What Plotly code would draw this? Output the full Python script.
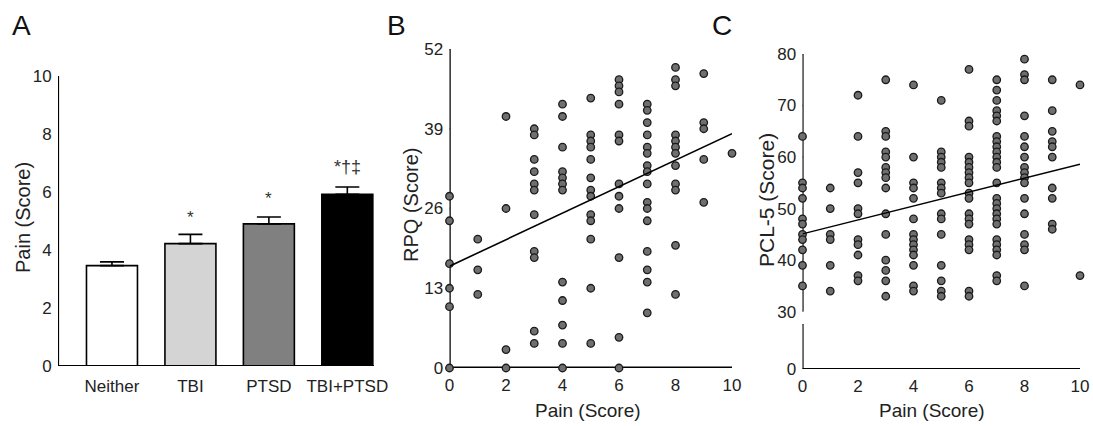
import plotly.graph_objects as go

W, H = 1093, 426
FONT = "Liberation Sans, Arial, sans-serif"
TXT = "#222222"

# ---- Panel A data ----
groups = ["Neither", "TBI", "PTSD", "TBI+PTSD"]
pain_mean = [3.46, 4.22, 4.90, 5.92]
pain_sem = [0.13, 0.32, 0.24, 0.25]
bar_colors = ["#ffffff", "#d4d4d4", "#808080", "#000000"]
sig_labels = ["", "*", "*", "*†‡"]
sig_y = [0, 5.13, 5.78, 6.85]
a_yticks = [0, 2, 4, 6, 8, 10]

# ---- Panel B data (RPQ by pain score) ----
pain_levels = [0, 1, 2, 3, 4, 5, 6, 7, 8, 9, 10]
pain_ticks = [0, 2, 4, 6, 8, 10]
rpq_ticks = [0, 13, 26, 39, 52]
rpq_cols = [
    [28, 24, 17, 13, 10, 0],
    [21, 16, 12],
    [41, 26, 3, 0],
    [39, 38, 34, 32, 30, 29, 25, 19, 18, 6, 4],
    [43, 41, 36, 32, 31, 30, 29, 14, 11, 7, 4, 0],
    [44, 38, 37, 36, 34, 31, 29, 28, 25, 24, 21, 13, 4],
    [47, 46, 45, 43, 38, 37, 30, 28, 26, 18, 5, 0],
    [43, 42, 40, 38, 36, 35, 33, 32, 30, 27, 26, 24, 19, 16, 14, 9],
    [49, 47, 46, 38, 37, 36, 35, 33, 30, 29, 20, 12],
    [48, 40, 39, 34, 27],
    [35],
]
rpq_fit_x = [0, 10]
rpq_fit_y = [16.6, 38.2]

# ---- Panel C data (PCL-5 by pain score) ----
pcl_ticks = [30, 40, 50, 60, 70, 80]
pcl_cols = [
    [64, 55, 54, 52, 48, 47, 45, 44, 42, 39, 35],
    [54, 50, 45, 44, 39, 34],
    [72, 64, 57, 55, 50, 49, 44, 43, 41, 37, 36],
    [75, 65, 64, 61, 60, 58, 57, 56, 54, 49, 45, 40, 38, 36, 33],
    [74, 60, 55, 54, 52, 48, 45, 44, 43, 42, 41, 39, 35, 34],
    [71, 61, 60, 59, 58, 55, 54, 53, 49, 48, 45, 39, 36, 34, 33],
    [77, 67, 66, 60, 59, 58, 57, 56, 55, 53, 52, 49, 48, 47, 44, 43, 42, 34, 33],
    [75, 73, 71, 69, 68, 67, 64, 63, 62, 61, 60, 59, 58, 55, 52, 51, 50, 49, 48, 47, 44, 43, 42, 41, 37, 36],
    [79, 76, 75, 68, 64, 62, 60, 58, 57, 56, 55, 52, 49, 45, 43, 42, 35],
    [75, 69, 65, 63, 62, 60, 54, 52, 47, 46],
    [74, 37],
]
pcl_fit_x = [0, 10]
pcl_fit_y = [45.1, 58.6]

b_x = [p for p, col in zip(pain_levels, rpq_cols) for _ in col]
b_y = [v for col in rpq_cols for v in col]
c_x = [p for p, col in zip(pain_levels, pcl_cols) for _ in col]
c_y = [v for col in pcl_cols for v in col]

# ---- layout geometry (pixels) and axis ranges ----
A_XPX, A_YPX = (58, 374), (366, 76)
B_XPX, B_YPX = (449.5, 732), (368, 49)
C_XPX, C_YPX_UP, C_YPX_LO = (802.5, 1080), (311.7, 54), (369, 324)
A_XR, A_YR = [-0.688, 3.34], [0, 10]
B_XR, B_YR = [0, 10], [0, 52]
C_XR, C_YR_UP, C_YR_LO = [0, 10], [30, 80], [0, 1]
TICKLEN = 5


def px_x(px):
    return px / W


def px_y(py):
    return 1 - py / H


def span(p):
    return abs(p[1] - p[0])


def frame(fig, xa, ya, xr, yr, xpx, ypx, xticks=(), yticks=(), xline=False, yline=False,
          xlw=2.2, ylw=2.2, tw=1.8):
    """Axis lines and outward tick marks drawn through the subplot's own scales."""
    dx = (xr[1] - xr[0]) / span(xpx) * TICKLEN
    dy = (yr[1] - yr[0]) / span(ypx) * TICKLEN
    common = dict(mode="lines", xaxis=xa, yaxis=ya, cliponaxis=False, hoverinfo="skip",
                  showlegend=False)
    if xline:
        fig.add_trace(go.Scatter(x=[xr[0], xr[1]], y=[yr[0], yr[0]],
                                 line=dict(color="black", width=xlw), **common))
    if yline:
        fig.add_trace(go.Scatter(x=[xr[0], xr[0]], y=[yr[0], yr[1]],
                                 line=dict(color="black", width=ylw), **common))
    tx, ty = [], []
    for t in xticks:
        tx += [t, t, None]
        ty += [yr[0], yr[0] - dy, None]
    for t in yticks:
        tx += [xr[0], xr[0] - dx, None]
        ty += [t, t, None]
    if tx:
        fig.add_trace(go.Scatter(x=tx, y=ty, line=dict(color="black", width=tw), **common))


marker = dict(size=7.5, color="#6f6f6f", line=dict(color="#1a1a1a", width=1.3))

fig = go.Figure()

# Panel A bars
fig.add_trace(go.Bar(
    x=list(range(len(groups))), y=pain_mean, width=0.65,
    marker=dict(color=bar_colors, line=dict(color="black", width=1.6)),
    error_y=dict(type="data", array=pain_sem, arrayminus=[0] * 4, symmetric=False,
                 color="black", thickness=1.6, width=12),
    xaxis="x", yaxis="y", showlegend=False,
))
frame(fig, "x", "y", A_XR, A_YR, A_XPX, A_YPX, xticks=range(len(groups)), yticks=a_yticks,
      xline=True, yline=True)

# Panel B frame, scatter + fit
frame(fig, "x2", "y2", B_XR, B_YR, B_XPX, B_YPX, xticks=pain_ticks, yticks=rpq_ticks,
      xline=True, yline=True, xlw=3, ylw=2.5)
fig.add_trace(go.Scatter(x=b_x, y=b_y, mode="markers", marker=marker, cliponaxis=False,
                         xaxis="x2", yaxis="y2", showlegend=False))
fig.add_trace(go.Scatter(x=rpq_fit_x, y=rpq_fit_y, mode="lines", line=dict(color="black", width=1.6),
                         cliponaxis=False, xaxis="x2", yaxis="y2", showlegend=False))

# Panel C frame (broken y axis), scatter + fit
frame(fig, "x3", "y3", C_XR, C_YR_UP, C_XPX, C_YPX_UP, yticks=pcl_ticks, yline=True)
frame(fig, "x3", "y4", C_XR, C_YR_LO, C_XPX, C_YPX_LO, xticks=pain_ticks, yticks=[0, 1],
      xline=True, yline=True)
fig.add_trace(go.Scatter(x=c_x, y=c_y, mode="markers", marker=marker, cliponaxis=False,
                         xaxis="x3", yaxis="y3", showlegend=False))
fig.add_trace(go.Scatter(x=pcl_fit_x, y=pcl_fit_y, mode="lines", line=dict(color="black", width=1.4),
                         cliponaxis=False, xaxis="x3", yaxis="y3", showlegend=False))


def ax(**kw):
    d = dict(showgrid=False, zeroline=False, showline=False, mirror=False,
             ticks="outside", tickcolor="rgba(0,0,0,0)", tickwidth=1, ticklen=TICKLEN,
             automargin=False, tickfont=dict(family=FONT, size=17, color=TXT))
    d.update(kw)
    return d


fig.update_layout(
    template="none",
    width=W, height=H, autosize=False,
    margin=dict(l=0, r=0, t=0, b=0, pad=0),
    paper_bgcolor="white", plot_bgcolor="white",
    font=dict(family=FONT, color=TXT),
    xaxis=ax(domain=[px_x(A_XPX[0]), px_x(A_XPX[1])], range=A_XR, anchor="y",
             tickvals=list(range(len(groups))), ticktext=groups),
    yaxis=ax(domain=[px_y(A_YPX[0]), px_y(A_YPX[1])], range=A_YR, anchor="x",
             tickvals=a_yticks, ticklabelstandoff=-3),
    xaxis2=ax(domain=[px_x(B_XPX[0]), px_x(B_XPX[1])], range=B_XR, anchor="y2",
              tickvals=pain_ticks, ticklabelstandoff=-3),
    yaxis2=ax(domain=[px_y(B_YPX[0]), px_y(B_YPX[1])], range=B_YR, anchor="x2",
              tickvals=rpq_ticks, ticklabelstandoff=-3),
    xaxis3=ax(domain=[px_x(C_XPX[0]), px_x(C_XPX[1])], range=C_XR, anchor="y4",
              tickvals=pain_ticks, ticklabelstandoff=-3),
    yaxis3=ax(domain=[px_y(C_YPX_UP[0]), px_y(C_YPX_UP[1])], range=C_YR_UP, anchor="x3",
              tickvals=pcl_ticks, ticklabelstandoff=-3),
    yaxis4=ax(domain=[px_y(C_YPX_LO[0]), px_y(C_YPX_LO[1])], range=C_YR_LO, anchor="x3",
              tickvals=[0, 1], ticktext=["0", ""], ticklabelstandoff=-3),
)

annotations = []
# significance markers
for i, (lab, yv) in enumerate(zip(sig_labels, sig_y)):
    if lab:
        annotations.append(dict(x=i, y=yv, xref="x", yref="y", text=lab, showarrow=False,
                                xanchor="center", yanchor="middle",
                                font=dict(family=FONT, size=18 if len(lab) > 1 else 17, color="#333")))


def label(text, x, y, size, angle=0, color=TXT):
    annotations.append(dict(x=px_x(x), y=px_y(y), xref="paper", yref="paper", text=text,
                            textangle=angle, showarrow=False, xanchor="center", yanchor="middle",
                            font=dict(family=FONT, size=size, color=color)))


# panel letters
label("A", 21, 26, 28, color="#111")
label("B", 396, 26, 28, color="#111")
label("C", 722, 26, 28, color="#111")
# axis titles
label("Pain (Score)", 23, 218, 20, angle=-90)
label("RPQ (Score)", 411, 205, 20, angle=-90)
label("PCL-5 (Score)", 766, 200, 21, angle=-90)
label("Pain (Score)", 588, 410, 19)
label("Pain (Score)", 932, 410, 19)
fig.update_layout(annotations=annotations)

fig.write_html("out.html")
